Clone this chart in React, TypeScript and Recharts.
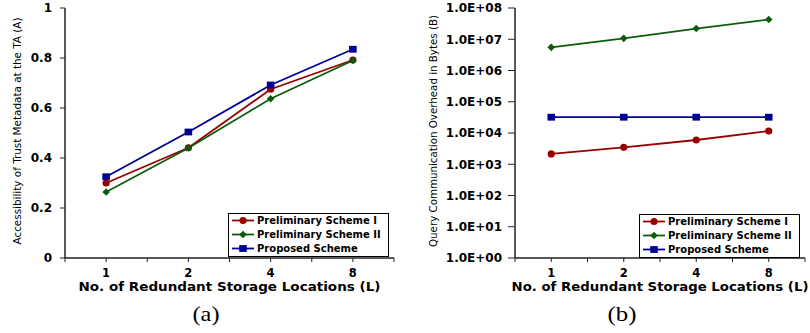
import React from 'react';
import { LineChart, Line, XAxis, YAxis, Legend } from 'recharts';

// x categories: number of redundant storage locations
const locations = ['1', '2', '4', '8'];
const seriesNames = ['Preliminary Scheme I', 'Preliminary Scheme II', 'Proposed Scheme'];

// (a) accessibility of trust metadata
const accessSchemeI = [0.3, 0.441, 0.675, 0.792];
const accessSchemeII = [0.264, 0.44, 0.637, 0.79];
const accessProposed = [0.325, 0.504, 0.692, 0.835];
const accessTicks = [0, 0.2, 0.4, 0.6, 0.8, 1];

// (b) query communication overhead in bytes (log axis)
const overheadSchemeI = [2140, 3470, 5970, 11600];
const overheadSchemeII = [5.5e6, 1.07e7, 2.2e7, 4.3e7];
const overheadProposed = [32000, 32000, 32000, 32000];
const overheadTicks = [1, 1e1, 1e2, 1e3, 1e4, 1e5, 1e6, 1e7, 1e8];

const accessData = locations.map((loc, i) => ({
  loc,
  s1: accessSchemeI[i],
  s2: accessSchemeII[i],
  s3: accessProposed[i],
}));

const overheadData = locations.map((loc, i) => ({
  loc,
  s1: overheadSchemeI[i],
  s2: overheadSchemeII[i],
  s3: overheadProposed[i],
}));

const FONT = '"DejaVu Sans", Verdana, sans-serif';
const AXIS = '#222';
const BORDER = '#999';

const series = [
  { key: 's1', color: '#990000', shape: 'circle' },
  { key: 's2', color: '#0b5d0b', shape: 'diamond' },
  { key: 's3', color: '#000099', shape: 'square' },
];

function Marker({ cx, cy, shape, color }: any) {
  if (cx == null || cy == null) return null;
  if (shape === 'circle') return <circle cx={cx} cy={cy} r={3.6} fill={color} />;
  if (shape === 'diamond')
    return (
      <polygon
        points={`${cx},${cy - 3.8} ${cx + 3.8},${cy} ${cx},${cy + 3.8} ${cx - 3.8},${cy}`}
        fill={color}
      />
    );
  return <rect x={cx - 3.8} y={cy - 3.4} width={7.6} height={6.8} fill={color} />;
}

function XTick(props: any) {
  const { x, y, payload, index, half } = props;
  const h = payload?.offset || half;
  return (
    <g>
      <line x1={x} x2={x} y1={y - 4} y2={y} stroke={AXIS} />
      <line x1={x - h} x2={x - h} y1={y - 4} y2={y} stroke={AXIS} />
      {index === locations.length - 1 && (
        <line x1={x + h} x2={x + h} y1={y - 4} y2={y} stroke={AXIS} />
      )}
      <text x={x} y={y + 15} textAnchor="middle" fontFamily={FONT} fontWeight="bold" fontSize={11.5} fill="#000">
        {payload.value}
      </text>
    </g>
  );
}

function XTitle({ viewBox, width }: any) {
  const cx = viewBox.x + viewBox.width / 2;
  return (
    <text
      x={cx}
      y={viewBox.y + 33}
      textAnchor="middle"
      fontFamily={FONT}
      fontWeight="bold"
      fontSize={12}
      textLength={width}
      lengthAdjust="spacingAndGlyphs"
      fill="#000"
    >
      No. of Redundant Storage Locations (L)
    </text>
  );
}

function YTitle({ viewBox, text, cx, length, size }: any) {
  const cy = viewBox.y + viewBox.height / 2 - 2;
  return (
    <text
      transform={`translate(${cx},${cy}) rotate(-90)`}
      textAnchor="middle"
      dominantBaseline="central"
      fontFamily={FONT}
      fontSize={size}
      textLength={length}
      lengthAdjust="spacingAndGlyphs"
      fill="#000"
    >
      {text}
    </text>
  );
}

function LegendBox({ payload }: any) {
  return (
    <svg width={162} height={45} style={{ display: 'block' }}>
      <rect x={0.5} y={0.5} width={160} height={43} fill="#fff" stroke="#000" />
      {(payload || []).map((entry: any, i: number) => {
        const st = series.find((s) => s.key === entry.dataKey) || series[i];
        const y = 7.5 + i * 14;
        return (
          <g key={entry.dataKey}>
            <line x1={4} x2={26} y1={y} y2={y} stroke={st.color} strokeWidth={1.8} />
            <Marker cx={15} cy={y} shape={st.shape} color={st.color} />
            <text x={29} y={y + 3.6} fontFamily={FONT} fontWeight="bold" fontSize={10} fill="#000">
              {entry.value}
            </text>
          </g>
        );
      })}
    </svg>
  );
}

const fmtExp = (v: number) => {
  const e = Math.round(Math.log10(v));
  return `1.0E+${String(e).padStart(2, '0')}`;
};

function renderLines() {
  return series.map((s, i) => (
    <Line
      key={s.key}
      dataKey={s.key}
      name={seriesNames[i]}
      stroke={s.color}
      strokeWidth={1.8}
      isAnimationActive={false}
      activeDot={false}
      dot={(p: any) => <Marker key={`${s.key}-${p.index}`} cx={p.cx} cy={p.cy} shape={s.shape} color={s.color} />}
    />
  ));
}

const yTickStyle = { fontFamily: FONT, fontWeight: 'bold', fontSize: 12, fill: '#000' };

export default function App() {
  return (
    <div style={{ position: 'absolute', left: 0, top: 0, width: 810, height: 333, background: '#fff' }}>
      <div style={{ position: 'absolute', left: 0, top: 0 }}>
        <LineChart width={400} height={300} data={accessData} margin={{ top: 8, right: 6, bottom: 0, left: 0 }}>
          <XAxis
            dataKey="loc"
            scale="band"
            height={42}
            axisLine={{ stroke: AXIS, strokeWidth: 1.5 }}
            tickLine={false}
            tickSize={4}
            tickMargin={0}
            interval={0}
            tick={(p: any) => <XTick {...p} half={41} />}
            label={{ content: (p: any) => <XTitle {...p} width={302} /> }}
          />
          <XAxis xAxisId="top" dataKey="loc" scale="band" orientation="top" height={0} tick={false} tickLine={false} axisLine={{ stroke: BORDER }} />
          <YAxis
            type="number"
            domain={[0, 1]}
            ticks={accessTicks}
            interval={0}
            width={65}
            tickSize={5}
            tickMargin={8}
            axisLine={{ stroke: AXIS, strokeWidth: 1.5 }}
            tickLine={{ stroke: AXIS }}
            tick={yTickStyle}
            label={{
              content: (p: any) => (
                <YTitle {...p} cx={17} length={227} size={11} text="Accessibility of Trust Metadata at the TA (A)" />
              ),
            }}
          />
          <YAxis yAxisId="right" orientation="right" width={0} domain={[0, 1]} tick={false} tickLine={false} axisLine={{ stroke: BORDER }} />
          {renderLines()}
          <Legend
            layout="horizontal"
            verticalAlign="middle"
            content={(p: any) => <LegendBox {...p} />}
            wrapperStyle={{ left: 228, top: 213, width: 162, height: 45 }}
          />
        </LineChart>
      </div>

      <div style={{ position: 'absolute', left: 400, top: 0 }}>
        <LineChart width={410} height={300} data={overheadData} margin={{ top: 8, right: 5, bottom: 0, left: 0 }}>
          <XAxis
            dataKey="loc"
            scale="band"
            height={42}
            axisLine={{ stroke: AXIS, strokeWidth: 1.5 }}
            tickLine={false}
            tickSize={4}
            tickMargin={0}
            interval={0}
            tick={(p: any) => <XTick {...p} half={36} />}
            label={{ content: (p: any) => <XTitle {...p} width={297} /> }}
          />
          <XAxis xAxisId="top" dataKey="loc" scale="band" orientation="top" height={0} tick={false} tickLine={false} axisLine={{ stroke: BORDER }} />
          <YAxis
            type="number"
            scale="log"
            domain={[1, 1e8]}
            allowDataOverflow
            ticks={overheadTicks}
            interval={0}
            width={115}
            tickSize={7}
            tickMargin={6}
            tickFormatter={fmtExp}
            axisLine={{ stroke: AXIS, strokeWidth: 1.5 }}
            tickLine={{ stroke: AXIS }}
            tick={yTickStyle}
            label={{
              content: (p: any) => (
                <YTitle {...p} cx={33} length={232} size={11} text="Query Communication Overhead in Bytes (B)" />
              ),
            }}
          />
          <YAxis yAxisId="right" orientation="right" width={0} domain={[0, 1]} tick={false} tickLine={false} axisLine={{ stroke: BORDER }} />
          {renderLines()}
          <Legend
            layout="horizontal"
            verticalAlign="middle"
            content={(p: any) => <LegendBox {...p} />}
            wrapperStyle={{ left: 239, top: 214, width: 162, height: 45 }}
          />
        </LineChart>
      </div>

      <svg width={810} height={333} style={{ position: 'absolute', left: 0, top: 0, pointerEvents: 'none' }}>
        <text x={206} y={321} textAnchor="middle" fontFamily='"Liberation Serif", serif' fontSize={21} textLength={27} lengthAdjust="spacingAndGlyphs" fill="#000">
          (a)
        </text>
        <text x={622} y={321} textAnchor="middle" fontFamily='"Liberation Serif", serif' fontSize={21} textLength={29} lengthAdjust="spacingAndGlyphs" fill="#000">
          (b)
        </text>
      </svg>
    </div>
  );
}
